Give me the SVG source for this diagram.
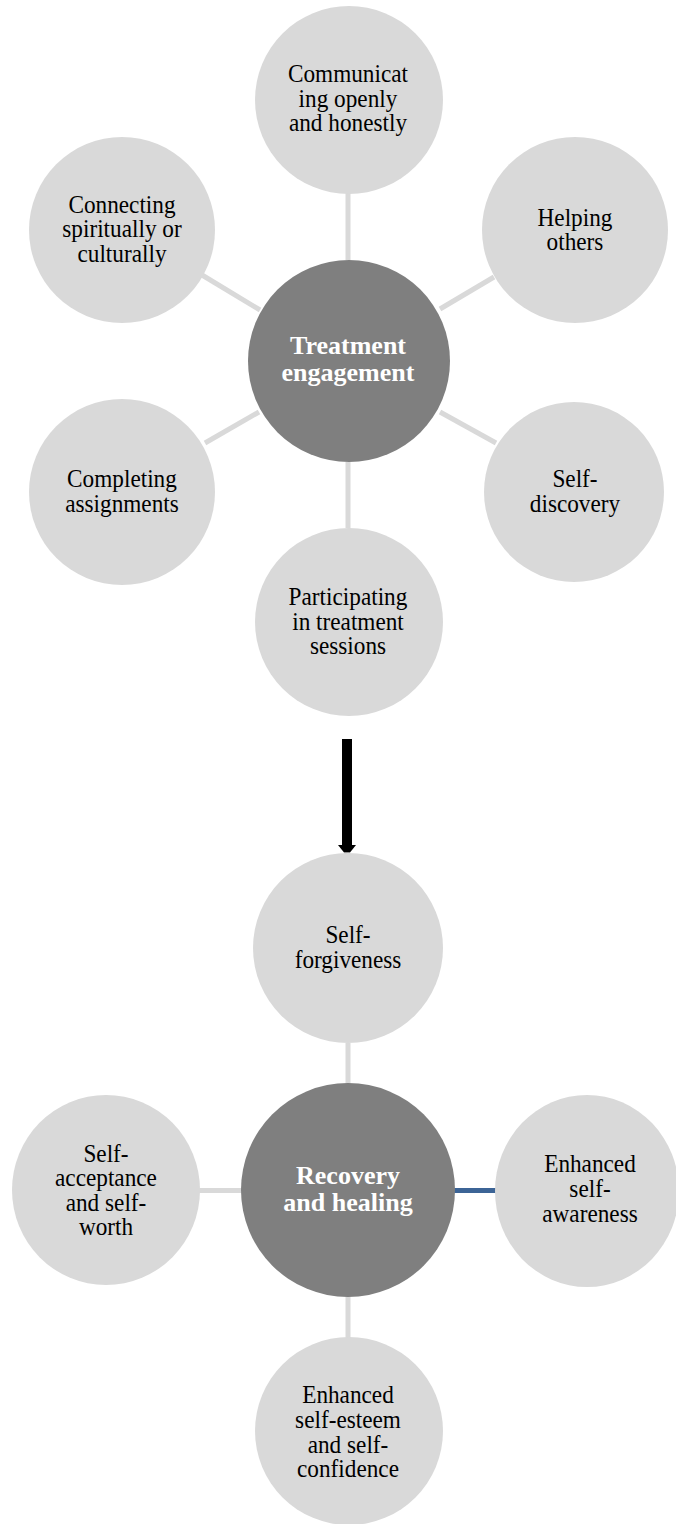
<svg xmlns="http://www.w3.org/2000/svg" width="676" height="1524" viewBox="0 0 676 1524">
  <style>
    .leaf { fill: #d9d9d9; }
    .hub { fill: #7f7f7f; }
    .link { stroke: #d9d9d9; stroke-width: 5; fill: none; }
    .link-blue { stroke: #3c6496; stroke-width: 5; fill: none; }
    .t { font-family: "Liberation Serif", "Times New Roman", serif; font-size: 25px; fill: #000; text-anchor: middle; }
    .tb { font-family: "Liberation Serif", "Times New Roman", serif; font-size: 26px; font-weight: bold; fill: #fff; text-anchor: middle; }
  </style>

  <rect width="676" height="1524" fill="#ffffff"/>

  <!-- connectors -->
  <g id="connectors">
    <line class="link" x1="348" y1="193" x2="348" y2="260"/>
    <line class="link" x1="202" y1="275" x2="260" y2="310"/>
    <line class="link" x1="494" y1="277" x2="440" y2="309"/>
    <line class="link" x1="205" y1="443" x2="259" y2="412"/>
    <line class="link" x1="440" y1="412" x2="496" y2="443"/>
    <line class="link" x1="348" y1="462" x2="348" y2="528"/>
    <line class="link" x1="348" y1="1043" x2="348" y2="1085"/>
    <line class="link" x1="198" y1="1190.5" x2="243" y2="1190.5"/>
    <line class="link-blue" x1="453" y1="1190.5" x2="496" y2="1190.5"/>
    <line class="link" x1="348" y1="1295" x2="348" y2="1338"/>
    <!-- flow arrow between the two clusters -->
    <g id="flow-arrow">
      <rect x="342" y="739" width="10" height="107" fill="#000"/>
      <polygon points="338,845 356,845 350,852.5 344,852.5" fill="#000"/>
      <polygon points="344,852.5 350,852.5 347,858" fill="#a3a3a3"/>
    </g>
  </g>

  <!-- treatment engagement cluster; labels are condensed horizontally around their centre -->
  <g id="n-communicating">
    <ellipse class="leaf" cx="349" cy="100" rx="94" ry="94"/>
    <g transform="matrix(0.93 0 0 1 24.36 0)">
      <text class="t" x="348" y="82">Communicat</text>
      <text class="t" x="348" y="107">ing openly</text>
      <text class="t" x="348" y="131">and honestly</text>
    </g>
  </g>
  <g id="n-connecting">
    <ellipse class="leaf" cx="122" cy="230" rx="93" ry="93"/>
    <g transform="matrix(0.93 0 0 1 8.54 0)">
      <text class="t" x="122" y="213">Connecting</text>
      <text class="t" x="122" y="237.5">spiritually or</text>
      <text class="t" x="122" y="262">culturally</text>
    </g>
  </g>
  <g id="n-helping">
    <ellipse class="leaf" cx="575" cy="230" rx="93" ry="93"/>
    <g transform="matrix(0.93 0 0 1 40.25 0)">
      <text class="t" x="575" y="226">Helping</text>
      <text class="t" x="575" y="250">others</text>
    </g>
  </g>
  <g id="n-completing">
    <ellipse class="leaf" cx="122" cy="492" rx="93" ry="93"/>
    <g transform="matrix(0.93 0 0 1 8.54 0)">
      <text class="t" x="122" y="487">Completing</text>
      <text class="t" x="122" y="512">assignments</text>
    </g>
  </g>
  <g id="n-self-discovery">
    <ellipse class="leaf" cx="574" cy="492" rx="90" ry="90"/>
    <g transform="matrix(0.93 0 0 1 40.25 0)">
      <text class="t" x="575" y="487">Self-</text>
      <text class="t" x="575" y="512">discovery</text>
    </g>
  </g>
  <g id="n-participating">
    <ellipse class="leaf" cx="349" cy="622" rx="94" ry="94"/>
    <g transform="matrix(0.93 0 0 1 24.36 0)">
      <text class="t" x="348" y="605">Participating</text>
      <text class="t" x="348" y="630">in treatment</text>
      <text class="t" x="348" y="654">sessions</text>
    </g>
  </g>
  <g id="n-treatment">
    <ellipse class="hub" cx="349" cy="361" rx="101" ry="101"/>
    <text class="tb" x="348" y="354">Treatment</text>
    <text class="tb" x="348" y="381">engagement</text>
  </g>

  <!-- recovery and healing cluster -->
  <g id="n-self-forgiveness">
    <ellipse class="leaf" cx="348" cy="948" rx="95" ry="95"/>
    <g transform="matrix(0.93 0 0 1 24.36 0)">
      <text class="t" x="348" y="943">Self-</text>
      <text class="t" x="348" y="968">forgiveness</text>
    </g>
  </g>
  <g id="n-self-acceptance">
    <ellipse class="leaf" cx="106" cy="1190" rx="94" ry="95"/>
    <g transform="matrix(0.93 0 0 1 7.42 0)">
      <text class="t" x="106" y="1162">Self-</text>
      <text class="t" x="106" y="1186">acceptance</text>
      <text class="t" x="106" y="1211">and self-</text>
      <text class="t" x="106" y="1235">worth</text>
    </g>
  </g>
  <g id="n-self-awareness">
    <ellipse class="leaf" cx="587" cy="1191" rx="92" ry="96"/>
    <g transform="matrix(0.93 0 0 1 41.3 0)">
      <text class="t" x="590" y="1172">Enhanced</text>
      <text class="t" x="590" y="1197">self-</text>
      <text class="t" x="590" y="1222">awareness</text>
    </g>
  </g>
  <g id="n-self-esteem">
    <ellipse class="leaf" cx="349" cy="1431" rx="94" ry="94"/>
    <g transform="matrix(0.93 0 0 1 24.36 0)">
      <text class="t" x="348" y="1403">Enhanced</text>
      <text class="t" x="348" y="1428">self-esteem</text>
      <text class="t" x="348" y="1453">and self-</text>
      <text class="t" x="348" y="1477">confidence</text>
    </g>
  </g>
  <g id="n-recovery">
    <ellipse class="hub" cx="348" cy="1190" rx="107" ry="107"/>
    <text class="tb" x="348" y="1184">Recovery</text>
    <text class="tb" x="348" y="1211">and healing</text>
  </g>
</svg>
